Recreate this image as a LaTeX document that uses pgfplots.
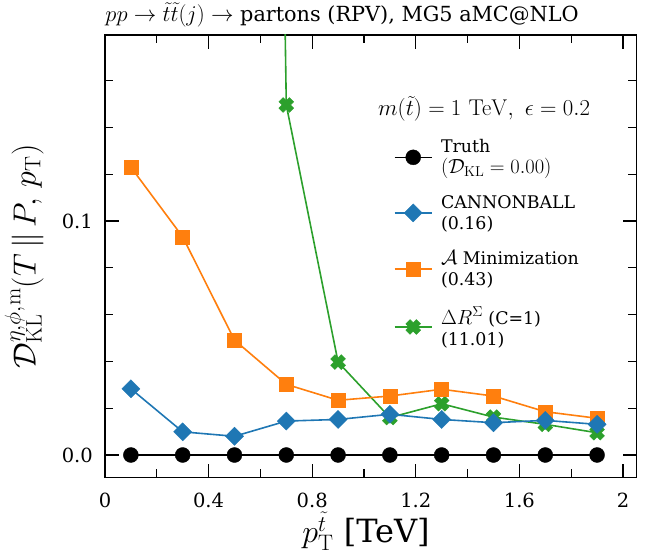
\RequirePackage{fix-cm}
\documentclass[border=0pt]{standalone}
\usepackage[no-math]{fontspec}
\setmainfont{DejaVu Serif}
\usepackage{pgfplots}
\pgfplotsset{compat=1.18}
\definecolor{mplblue}{HTML}{1F77B4}
\definecolor{mplorange}{HTML}{FF7F0E}
\definecolor{mplgreen}{HTML}{2CA02C}

\newcommand\tickfont{\fontsize{19.5}{22}\selectfont}
\newcommand\legfont{\fontsize{17.4}{21}\selectfont}
\newcommand\labfont{\fontsize{32}{38}\selectfont}
\newcommand\titfont{\fontsize{20.8}{24}\selectfont}
% math in the legend is set a little larger than the DejaVu text
\newcommand\lm[1]{{\fontsize{20.5}{21}\selectfont$#1$}}

% filled "X" marker (plus rotated by 45 degrees)
\pgfdeclareplotmark{fatx}{%
  \pgftransformrotate{45}%
  \pgfpathmoveto{\pgfpoint{0.4\pgfplotmarksize}{\pgfplotmarksize}}%
  \pgfpathlineto{\pgfpoint{0.4\pgfplotmarksize}{0.4\pgfplotmarksize}}%
  \pgfpathlineto{\pgfpoint{\pgfplotmarksize}{0.4\pgfplotmarksize}}%
  \pgfpathlineto{\pgfpoint{\pgfplotmarksize}{-0.4\pgfplotmarksize}}%
  \pgfpathlineto{\pgfpoint{0.4\pgfplotmarksize}{-0.4\pgfplotmarksize}}%
  \pgfpathlineto{\pgfpoint{0.4\pgfplotmarksize}{-\pgfplotmarksize}}%
  \pgfpathlineto{\pgfpoint{-0.4\pgfplotmarksize}{-\pgfplotmarksize}}%
  \pgfpathlineto{\pgfpoint{-0.4\pgfplotmarksize}{-0.4\pgfplotmarksize}}%
  \pgfpathlineto{\pgfpoint{-\pgfplotmarksize}{-0.4\pgfplotmarksize}}%
  \pgfpathlineto{\pgfpoint{-\pgfplotmarksize}{0.4\pgfplotmarksize}}%
  \pgfpathlineto{\pgfpoint{-0.4\pgfplotmarksize}{0.4\pgfplotmarksize}}%
  \pgfpathlineto{\pgfpoint{-0.4\pgfplotmarksize}{\pgfplotmarksize}}%
  \pgfpathclose
  \pgfusepathqfillstroke
}

\begin{document}
\begin{tikzpicture}
\begin{axis}[
    scale only axis,
    width=531.7pt,
    height=442.7pt,
    xmin=0, xmax=2.053,
    ymin=-0.0097, ymax=0.1795,
    xtick={0,0.4,0.8,1.2,1.6,2},
    xticklabels={0,0.4,0.8,1.2,1.6,2},
    minor xtick={0.2,0.6,1.0,1.4,1.8},
    ytick={0,0.1},
    yticklabels={0.0,0.1},
    minor ytick={0.02,0.04,0.06,0.08,0.12,0.14,0.16},
    tick align=inside,
    xtick pos=both, ytick pos=both,
    major tick length=14pt,
    minor tick length=8.5pt,
    every tick/.style={black, line width=1.2pt},
    axis line style={line width=1.3pt},
    ticklabel style={font=\tickfont, inner sep=0pt},
    xticklabel style={yshift=-15pt},
    yticklabel style={xshift=-12pt},
    title={{\fontsize{22.5}{24}\selectfont$pp\to\tilde{t}\tilde{t}(j)\to$} partons (RPV), MG5 aMC@NLO},
    title style={font=\titfont, at={(axis description cs:0.446,1)}, anchor=south, yshift=-2pt},
    xlabel={$p_{\mathrm{T}}^{\tilde{t}}$ [TeV]},
    xlabel style={font=\labfont, inner sep=0pt, at={(axis description cs:0.491,0)}, anchor=base, yshift=-65pt},
    ylabel={$\mathcal{D}^{\eta,\phi,\mathrm{m}}_{\mathrm{KL}}(T\,\|\,P,\,p_{\mathrm{T}})$},
    ylabel style={font=\labfont, inner sep=0pt, at={(axis description cs:-0.152,0.50)}, anchor=center},
    reverse legend,
    legend cell align=left,
    legend style={draw=none, fill=none, font=\legfont,
        at={(axis description cs:0.543,0.769)}, anchor=north west,
        inner sep=0pt, row sep=16pt, column sep=6.5pt,
        cells={align=left}},
    legend image code/.code={%
        \draw[mark repeat=2,mark phase=2] plot coordinates {(0pt,0pt) (18.5pt,0pt) (37pt,0pt)};},
]
% Delta R^Sigma (C=1)
\addplot[color=mplgreen, line width=1.6pt, mark=fatx, mark size=7.5pt,
    mark options={line width=0.4pt}] coordinates {
    (0.1,4.5) (0.3,3.2) (0.5,1.6) (0.7,0.1496) (0.9,0.0397)
    (1.1,0.0160) (1.3,0.0219) (1.5,0.0162) (1.7,0.0131) (1.9,0.0095)
};
\addlegendentry{\lm{\Delta R^{\Sigma}} (C=1)\\(11.01)}
% A minimization
\addplot[color=mplorange, line width=1.6pt, mark=square*, mark size=7pt,
    mark options={line width=0.4pt}] coordinates {
    (0.1,0.1230) (0.3,0.0932) (0.5,0.0491) (0.7,0.0302) (0.9,0.0234)
    (1.1,0.0252) (1.3,0.0281) (1.5,0.0252) (1.7,0.0185) (1.9,0.0157)
};
\addlegendentry{\lm{\mathcal{A}} Minimization\\(0.43)}
% CANNONBALL
\addplot[color=mplblue, line width=1.6pt, mark=square*, mark size=6.4pt,
    mark options={rotate=45, line width=0.4pt}] coordinates {
    (0.1,0.0283) (0.3,0.0099) (0.5,0.0080) (0.7,0.0145) (0.9,0.0152)
    (1.1,0.0174) (1.3,0.0152) (1.5,0.0138) (1.7,0.0148) (1.9,0.0131)
};
\addlegendentry{CANNONBALL\\(0.16)}
% Truth
\addplot[color=black, line width=1.6pt, mark=*, mark size=7.5pt,
    mark options={line width=0.4pt}] coordinates {
    (0.1,0) (0.3,0) (0.5,0) (0.7,0) (0.9,0)
    (1.1,0) (1.3,0) (1.5,0) (1.7,0) (1.9,0)
};
\addlegendentry{Truth\\\lm{(\mathcal{D}_{\mathrm{KL}}=0.00)}}
\node[font=\fontsize{22.8}{26}\selectfont, anchor=center]
    at (axis description cs:0.713,0.834)
    {$m(\tilde{t})=1\ \mathrm{TeV},\ \epsilon=0.2$};
\end{axis}
\pgfresetboundingbox
\path[use as bounding box] ([shift={(-105pt,-74.3pt)}]current axis.south west)
    rectangle ([shift={(8.3pt,35pt)}]current axis.north east);
\end{tikzpicture}
\end{document}
